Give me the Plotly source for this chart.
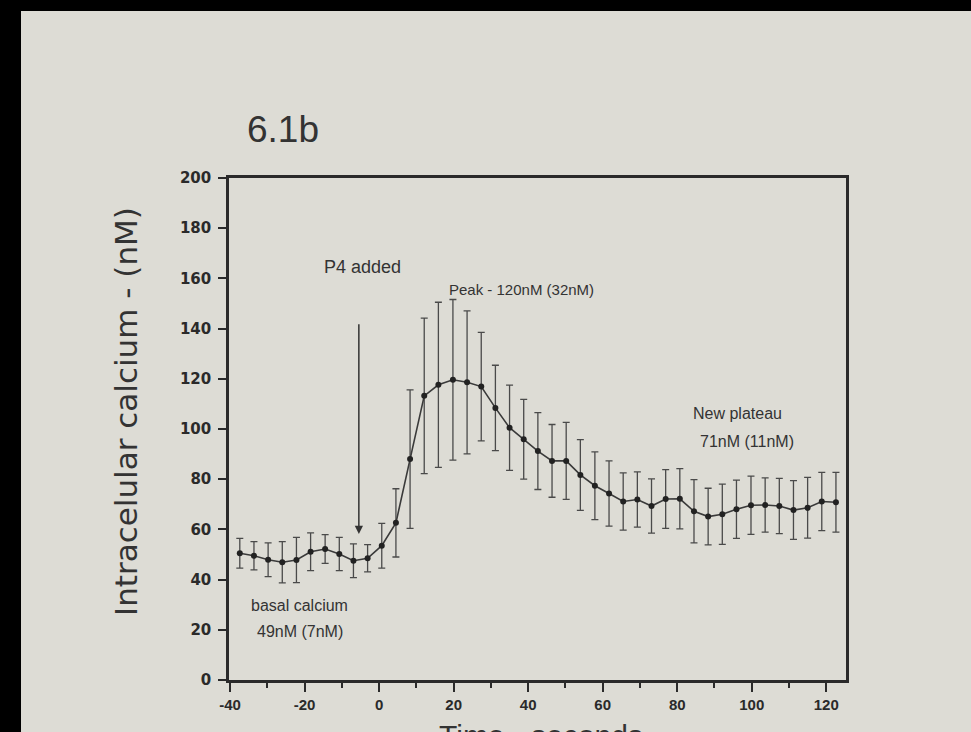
import plotly.graph_objects as go

# ---- data ----
time_s = [-37.4, -33.6, -29.8, -26.0, -22.2, -18.4, -14.5, -10.7, -6.9, -3.1,
          0.7, 4.5, 8.3, 12.1, 15.9, 19.8, 23.6, 27.4, 31.2, 35.0,
          38.8, 42.6, 46.4, 50.2, 54.0, 57.9, 61.7, 65.5, 69.3, 73.1,
          76.9, 80.7, 84.5, 88.3, 92.1, 95.9, 99.8, 103.6, 107.4, 111.2,
          115.0, 118.8, 122.6]
calcium_nM = [50.5, 49.5, 47.9, 46.9, 47.8, 51.1, 52.2, 50.2, 47.5, 48.5,
              53.5, 62.6, 88.0, 113.2, 117.6, 119.6, 118.6, 116.9, 108.4, 100.5,
              95.9, 91.2, 87.3, 87.3, 81.7, 77.4, 74.3, 71.1, 71.9, 69.3,
              72.1, 72.2, 67.2, 65.1, 66.0, 68.0, 69.6, 69.7, 69.3, 67.7,
              68.6, 71.1, 70.8]
calcium_sd = [5.9, 5.6, 6.7, 8.2, 9.0, 7.5, 5.7, 6.6, 6.7, 5.4,
              8.9, 13.6, 27.6, 31.0, 32.9, 32.0, 28.5, 21.6, 17.0, 17.0,
              15.9, 15.3, 14.5, 15.3, 14.1, 13.5, 13.0, 11.4, 11.0, 10.8,
              11.7, 12.0, 12.6, 11.3, 12.0, 11.6, 11.6, 10.8, 11.0, 11.7,
              12.1, 11.6, 11.9]
x_ticks = [-40, -20, 0, 20, 40, 60, 80, 100, 120]
x_tick_labels = ["-40", "-20", "0", "20", "40", "60", "80", "100", "120"]
y_ticks = [0, 20, 40, 60, 80, 100, 120, 140, 160, 180, 200]

# ---- layout geometry (pixels) ----
W, H = 971, 732
L, R, T, B = 229, 846, 178, 680
PAPER = "#dddcd5"
INK = "#2a2a2a"


def px_x(px):
    return (px - L) / (R - L)


def px_y(py):
    return (B - py) / (B - T)


fig = go.Figure()
fig.add_trace(go.Scatter(
    x=time_s, y=calcium_nM, mode="lines+markers",
    line=dict(color="#3a3a3a", width=1.6),
    marker=dict(size=6, color="#222222"),
    error_y=dict(type="data", array=calcium_sd, visible=True,
                 color="#4a4a4a", thickness=1.3, width=3.5),
    showlegend=False, hoverinfo="x+y",
))

axis_common = dict(showline=True, linecolor=INK, linewidth=2.5, mirror=True,
                   ticks="outside", tickcolor=INK, tickwidth=2.2,
                   showgrid=False, zeroline=False)

fig.update_xaxes(range=[-40.3, 125.3], tickvals=x_ticks, ticktext=x_tick_labels, ticklen=9,
                 tickfont=dict(family="Liberation Sans", size=15, color=INK, weight="bold"),
                 minor=dict(dtick=10, tick0=0, ticks="outside", ticklen=5,
                            tickwidth=2, tickcolor=INK, showgrid=False),
                 **axis_common)
fig.update_yaxes(range=[0, 200], tickvals=y_ticks, ticklen=8,
                 ticklabelstandoff=4,
                 tickfont=dict(family="DejaVu Sans", size=15, color=INK, weight="bold"),
                 **axis_common)

ann = []
# panel label
ann.append(dict(text="6.1b", xref="paper", yref="paper", x=px_x(283), y=px_y(129),
                xanchor="center", yanchor="middle", showarrow=False,
                font=dict(family="Liberation Sans", size=37, color="#333333")))
# y-axis title
ann.append(dict(text="Intracelular calcium - (nM)", xref="paper", yref="paper",
                x=px_x(126), y=px_y(412), textangle=-90, xanchor="center", yanchor="middle",
                showarrow=False, font=dict(family="DejaVu Sans", size=31, color="#333333")))
# x-axis title (cut off at page bottom, as in the photo)
ann.append(dict(text="Time - seconds", xref="paper", yref="paper",
                x=px_x(541), y=px_y(717), xanchor="center", yanchor="top",
                showarrow=False, font=dict(family="Liberation Sans", size=30, color="#333333")))
# text labels
lab_font = dict(family="Liberation Sans", color="#333333")
ann.append(dict(text="P4 added", x=-4.4, y=164.4, showarrow=False,
                font=dict(size=18, **lab_font)))
ann.append(dict(text="Peak - 120nM (32nM)", x=38.2, y=155.5, showarrow=False,
                font=dict(size=15, **lab_font)))
ann.append(dict(text="basal calcium", x=-21.3, y=29.6, showarrow=False,
                font=dict(size=16, **lab_font)))
ann.append(dict(text="49nM (7nM)", x=-21.3, y=19.5, showarrow=False,
                font=dict(size=16, **lab_font)))
ann.append(dict(text="New plateau", x=96.2, y=106.3, showarrow=False,
                font=dict(size=16, **lab_font)))
ann.append(dict(text="71nM (11nM)", x=98.6, y=95.0, showarrow=False,
                font=dict(size=16, **lab_font)))
# arrow marking P4 addition
ann.append(dict(text="", x=-5.45, y=58.2, ax=-5.45, ay=142.3, axref="x", ayref="y",
                showarrow=True, arrowhead=2, arrowsize=1.1, arrowwidth=1.5,
                arrowcolor="#333333", standoff=0))

# black photo border (top and left)
shapes = [
    dict(type="rect", xref="paper", yref="paper", x0=px_x(0), x1=px_x(21),
         y0=px_y(H), y1=px_y(0), fillcolor="black", line=dict(width=0), layer="above"),
    dict(type="rect", xref="paper", yref="paper", x0=px_x(0), x1=px_x(W),
         y0=px_y(11), y1=px_y(0), fillcolor="black", line=dict(width=0), layer="above"),
]

fig.update_layout(width=W, height=H, margin=dict(l=L, r=W - R, t=T, b=H - B),
                  paper_bgcolor=PAPER, plot_bgcolor=PAPER,
                  annotations=ann, shapes=shapes, showlegend=False)

fig.write_html("out.html", config={"displayModeBar": False},
               post_script="document.body.style.margin='0';document.body.style.overflow='hidden';")
